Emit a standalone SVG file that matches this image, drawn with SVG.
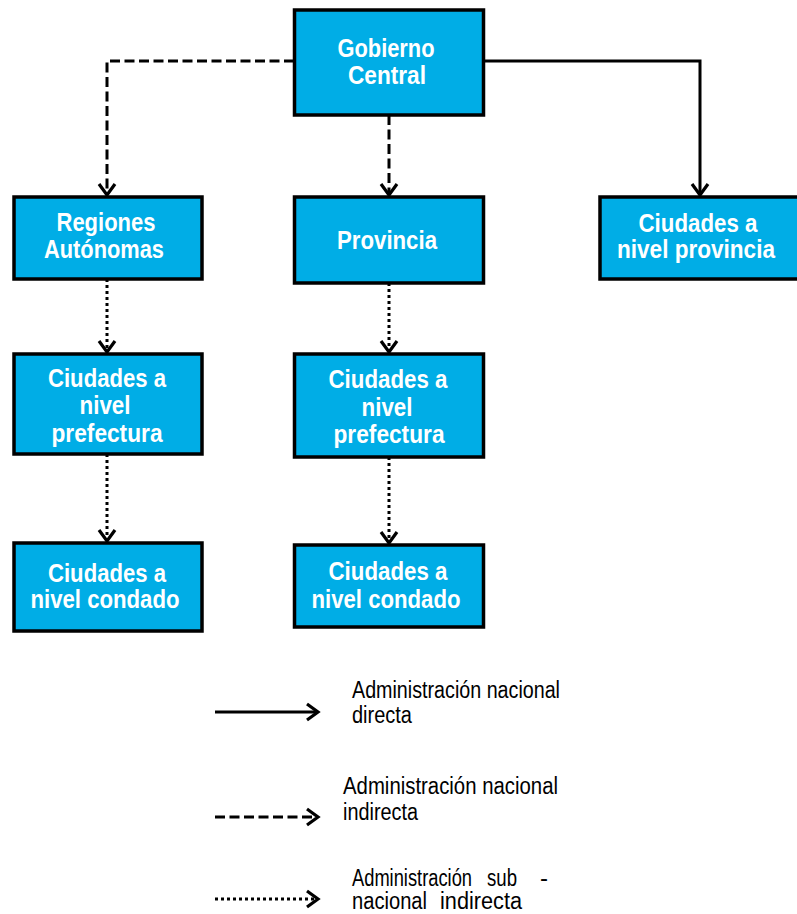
<svg xmlns="http://www.w3.org/2000/svg" width="797" height="914" viewBox="0 0 797 914">
<style>
.box{fill:#00ADE6;stroke:#000;stroke-width:3.5}
.t{font-family:"Liberation Sans",Arial,sans-serif;font-weight:bold;font-size:26px;fill:#fff;text-anchor:middle}
.lg{font-family:"Liberation Sans",Arial,sans-serif;font-size:23px;fill:#000}
.c{fill:none;stroke:#000;stroke-width:3}
.solid{}
.dash{stroke-dasharray:10 4.5}
.dot{stroke-dasharray:3 3}
</style>
<defs>
<marker id="ah" markerUnits="userSpaceOnUse" markerWidth="24" markerHeight="24" viewBox="-14 -12 16 24" refX="0" refY="0" orient="auto">
<path d="M-11,-8 L0,0 L-11,8" fill="none" stroke="#000" stroke-width="3.2"/>
</marker>
</defs>
<rect width="797" height="914" fill="#fff"/>
<g id="connectors">
<path class="c dash" d="M294,61 H107 V195" marker-end="url(#ah)"/>
<path class="c dash" d="M389,115 V195" marker-end="url(#ah)"/>
<path class="c solid" d="M484,61 H700 V195" marker-end="url(#ah)"/>
<path class="c dot" d="M107,279 V352" marker-end="url(#ah)"/>
<path class="c dot" d="M389,283 V352" marker-end="url(#ah)"/>
<path class="c dot" d="M107,454 V541" marker-end="url(#ah)"/>
<path class="c dot" d="M389,457 V543" marker-end="url(#ah)"/>
</g>
<g id="gobierno">
<rect class="box" x="294.5" y="10" width="189" height="105"/>
<text class="t" x="386" y="57" textLength="97" lengthAdjust="spacingAndGlyphs">Gobierno</text>
<text class="t" x="387" y="84" textLength="78" lengthAdjust="spacingAndGlyphs">Central</text>
</g>
<g id="regiones">
<rect class="box" x="14" y="197" width="188" height="82"/>
<text class="t" x="106" y="231" textLength="99" lengthAdjust="spacingAndGlyphs">Regiones</text>
<text class="t" x="104" y="258" textLength="120" lengthAdjust="spacingAndGlyphs">Autónomas</text>
</g>
<g id="provincia">
<rect class="box" x="294.5" y="197" width="189" height="86"/>
<text class="t" x="387" y="249" textLength="100" lengthAdjust="spacingAndGlyphs">Provincia</text>
</g>
<g id="ciudades-provincia">
<rect class="box" x="600" y="197" width="199" height="82"/>
<text class="t" x="698" y="232" textLength="119" lengthAdjust="spacingAndGlyphs">Ciudades a</text>
<text class="t" x="696" y="258" textLength="158" lengthAdjust="spacingAndGlyphs">nivel provincia</text>
</g>
<g id="prefectura-izq">
<rect class="box" x="14" y="354" width="188" height="100"/>
<text class="t" x="107" y="387" textLength="118" lengthAdjust="spacingAndGlyphs">Ciudades a</text>
<text class="t" x="105" y="414" textLength="51" lengthAdjust="spacingAndGlyphs">nivel</text>
<text class="t" x="107" y="442" textLength="111" lengthAdjust="spacingAndGlyphs">prefectura</text>
</g>
<g id="prefectura-der">
<rect class="box" x="294.5" y="354" width="189" height="103"/>
<text class="t" x="388" y="388" textLength="119" lengthAdjust="spacingAndGlyphs">Ciudades a</text>
<text class="t" x="387" y="416" textLength="51" lengthAdjust="spacingAndGlyphs">nivel</text>
<text class="t" x="389" y="443" textLength="111" lengthAdjust="spacingAndGlyphs">prefectura</text>
</g>
<g id="condado-izq">
<rect class="box" x="14" y="543" width="188" height="88"/>
<text class="t" x="107" y="582" textLength="118" lengthAdjust="spacingAndGlyphs">Ciudades a</text>
<text class="t" x="105" y="608" textLength="149" lengthAdjust="spacingAndGlyphs">nivel condado</text>
</g>
<g id="condado-der">
<rect class="box" x="294.5" y="545" width="189" height="82"/>
<text class="t" x="388" y="580" textLength="119" lengthAdjust="spacingAndGlyphs">Ciudades a</text>
<text class="t" x="386" y="608" textLength="149" lengthAdjust="spacingAndGlyphs">nivel condado</text>
</g>
<g id="legend">
<path class="c solid" d="M215,712 H318" marker-end="url(#ah)"/>
<path class="c dash" d="M215,817 H318" marker-end="url(#ah)"/>
<path class="c dot" d="M215,899 H318" marker-end="url(#ah)"/>
<text class="lg" x="352" y="698" textLength="208" lengthAdjust="spacingAndGlyphs">Administración nacional</text>
<text class="lg" x="352" y="723" textLength="60" lengthAdjust="spacingAndGlyphs">directa</text>
<text class="lg" x="343" y="794" textLength="215" lengthAdjust="spacingAndGlyphs">Administración nacional</text>
<text class="lg" x="343" y="820" textLength="75" lengthAdjust="spacingAndGlyphs">indirecta</text>
<text class="lg" x="352" y="886" textLength="120" lengthAdjust="spacingAndGlyphs">Administración</text>
<text class="lg" x="487" y="886" textLength="30" lengthAdjust="spacingAndGlyphs">sub</text>
<text class="lg" x="540" y="886" textLength="8" lengthAdjust="spacingAndGlyphs">-</text>
<text class="lg" x="352" y="909" textLength="75" lengthAdjust="spacingAndGlyphs">nacional</text>
<text class="lg" x="440" y="909" textLength="82" lengthAdjust="spacingAndGlyphs">indirecta</text>
</g>
</svg>
